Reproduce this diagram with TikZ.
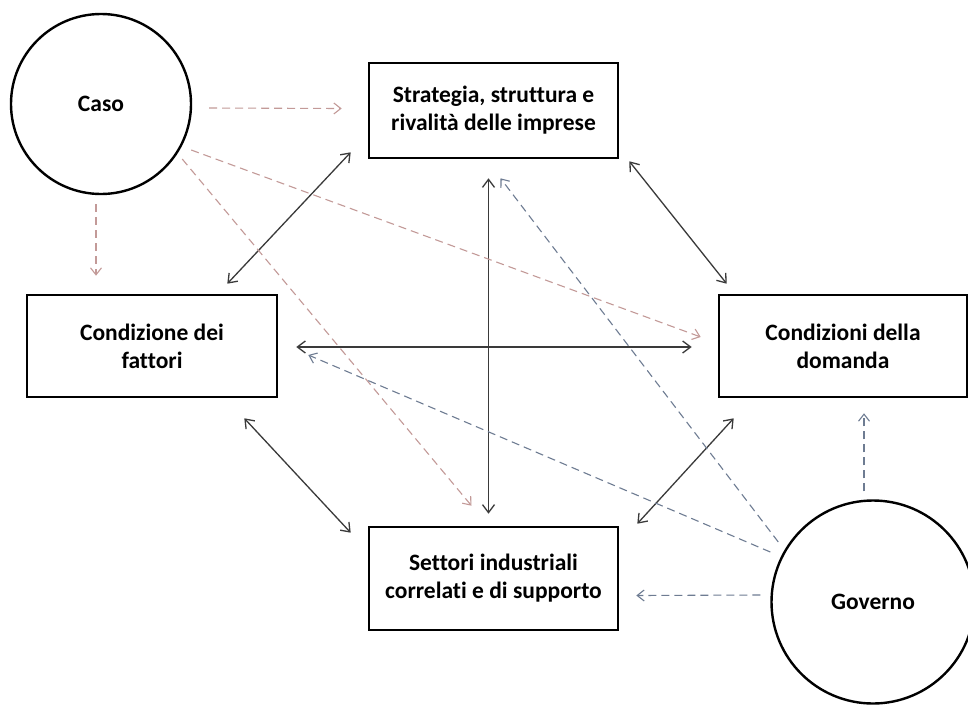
\documentclass[tikz,border=0pt]{standalone}
\usepackage{fontspec}
\setmainfont{Carlito}[Ligatures=NoCommon]
\usetikzlibrary{arrows.meta,calc}
\definecolor{pfLine}{HTML}{3A3A3A}
\definecolor{pfCaso}{HTML}{C39A98}
\definecolor{pfGov}{HTML}{6E7C92}
\tikzset{
  factor/.style={draw=black, line width=2.6pt, fill=white, align=center, inner sep=4pt, font=\fontsize{23.5}{28}\selectfont\bfseries},
  actor/.style={circle, draw=black, line width=2.4pt, fill=white, inner sep=0pt, font=\fontsize{23.5}{28}\selectfont\bfseries},
  biarrow/.style={{Straight Barb[length=8pt,width=12pt]}-{Straight Barb[length=8pt,width=12pt]}, line width=1.3pt, draw=pfLine},
  casoarr/.style={-{Straight Barb[length=7pt,width=11pt]}, line width=1.1pt, draw=pfCaso, dash pattern=on 8pt off 5pt},
  govarr/.style={-{Straight Barb[length=7pt,width=11pt]}, line width=1.1pt, draw=pfGov, dash pattern=on 8pt off 5pt}
}
\begin{document}
\begin{tikzpicture}[x=1pt,y=-1pt]
  \useasboundingbox[fill=white] (0,0) rectangle (968,704);
  % the four corners of the diamond
  \node[factor, minimum width=249, minimum height=95] (strat) at (493.5,110.5) {Strategia, struttura e\\rivalità delle imprese};
  \node[factor, minimum width=250, minimum height=102] (fatt) at (152,346) {Condizione dei\\fattori};
  \node[factor, minimum width=248, minimum height=102] (dom) at (843,346) {Condizioni della\\domanda};
  \node[factor, minimum width=249, minimum height=103] (sett) at (493.5,578.5) {Settori industriali\\correlati e di supporto};
  % the two outside actors
  \node[actor, minimum size=180] (caso) at (101,104) {Caso};
  \node[actor, minimum size=203] (gov) at (873,602) {Governo};
  % links between the determinants
  \draw[biarrow] ($(strat.south west)+(-17,-7)$) -- ($(fatt.north east)+(-51,-10)$);
  \draw[biarrow] ($(strat.south east)+(10,2)$) -- ($(dom.north west)+(9,-10)$);
  \draw[biarrow] ($(fatt.south east)+(-34,20)$) -- ($(sett.north west)+(-17,7)$);
  \draw[biarrow] ($(dom.south west)+(16,20)$) -- ($(sett.north east)+(18,-2)$);
  \draw[biarrow] ($(fatt.east)+(18,1)$) -- ($(dom.west)+(-26,1)$);
  \draw[biarrow] ($(strat.south)+(-5,19)$) -- ($(sett.north)+(-5,-12)$);
  % chance
  \draw[casoarr] ($(caso.east)+(17,4)$) -- ($(strat.west)+(-26,-2)$);
  \draw[casoarr] ($(caso.south)+(-5,9)$) -- ($(fatt.north)+(-56,-18)$);
  \draw[casoarr] ($(caso.east)+(-1,46)$) -- ($(dom.west)+(-17,-9)$);
  \draw[casoarr] ($(caso.east)+(-10,55)$) -- ($(sett.north)+(-22,-20)$);
  % government
  \draw[govarr] ($(gov.west)+(8,-60)$) -- ($(strat.south)+(7,19)$);
  \draw[govarr] ($(gov.west)+(0,-50)$) -- ($(fatt.east)+(30,9)$);
  \draw[govarr] ($(gov.west)+(-10,-7)$) -- ($(sett.east)+(17,17)$);
  \draw[govarr] ($(gov.north)+(-9,-8)$) -- ($(dom.south)+(21,15)$);
\end{tikzpicture}
\end{document}
